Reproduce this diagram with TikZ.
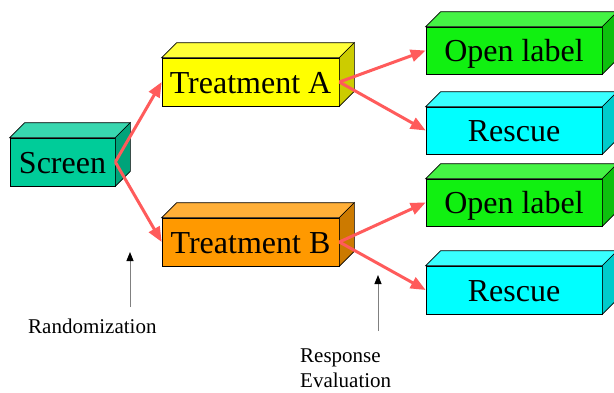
\documentclass[tikz,border=0pt]{standalone}
\usepackage{fontspec}
\setmainfont{Liberation Serif}
\usetikzlibrary{arrows.meta, calc}

\definecolor{screencol}{HTML}{00CC99}
\definecolor{tacol}{HTML}{FFFF00}
\definecolor{tbcol}{HTML}{FF9900}
\definecolor{opencol}{HTML}{11F011}
\definecolor{rescuecol}{HTML}{00FFFF}
\definecolor{arrowred}{HTML}{FF5B5B}

\begin{document}
\begin{tikzpicture}[
  x=1pt, y=-1pt,
  box/.style={draw, line width=0.6pt, fill=#1, inner sep=0pt, minimum height=48pt,
    text height=22pt, text depth=0pt, font=\fontsize{32}{38}\selectfont},
  arrow/.style={-{Triangle[length=15pt,width=12pt]}, line width=3pt, arrowred},
  pointer/.style={-{Triangle[length=9pt,width=7pt,black]}, line width=1pt, gray},
  note/.style={inner sep=0pt, font=\fontsize{21}{25}\selectfont}
]
\useasboundingbox (0,0) rectangle (614,392);

% front faces
\node[box=screencol, minimum width=105pt] (screen) at (62.5,162) {Screen};
\node[box=tacol, minimum width=177pt] (treatA) at (250.5,82) {Treatment A};
\node[box=tbcol, minimum width=177pt] (treatB) at (250.5,242) {Treatment B};
\node[box=opencol, minimum width=176pt, minimum height=47pt] (openA) at (514,50.5) {Open label};
\node[box=rescuecol, minimum width=176pt, minimum height=47pt] (rescueA) at (514,130.5) {Rescue};
\node[box=opencol, minimum width=176pt, minimum height=47pt] (openB) at (514,202.5) {Open label};
\node[box=rescuecol, minimum width=176pt, minimum height=48pt] (rescueB) at (514,290) {Rescue};

% top and side faces
\foreach \n/\c in {screen/screencol, treatA/tacol, treatB/tbcol, openA/opencol,
  rescueA/rescuecol, openB/opencol, rescueB/rescuecol}{
  \draw[line width=0.6pt, fill=\c!78!white] (\n.north west) -- ++(15,-15)
    -- ($(\n.north east)+(15,-15)$) -- (\n.north east) -- cycle;
  \draw[line width=0.6pt, fill=\c!80!black] (\n.north east) -- ++(15,-15)
    -- ($(\n.south east)+(15,-15)$) -- (\n.south east) -- cycle;
}

\draw[arrow] (screen.east) -- (treatA.west);
\draw[arrow] (screen.east) -- (treatB.west);
\draw[arrow] (treatA.east) -- (openA.west);
\draw[arrow] (treatA.east) -- (rescueA.west);
\draw[arrow] (treatB.east) -- (openB.west);
\draw[arrow] (treatB.east) -- (rescueB.west);

% stage labels
\node[note, anchor=base west] (rand) at (28,333) {Randomization};
\node[note, anchor=north west, align=left] (resp) at (300,349) {Response\\Evaluation};
\coordinate (randfoot) at (130,307);
\coordinate (randtip) at (130,252);
\coordinate (respfoot) at (378,331);
\coordinate (resptip) at (378,275);
\draw[pointer] (randfoot) -- (randtip);
\draw[pointer] (respfoot) -- (resptip);
\end{tikzpicture}
\end{document}
